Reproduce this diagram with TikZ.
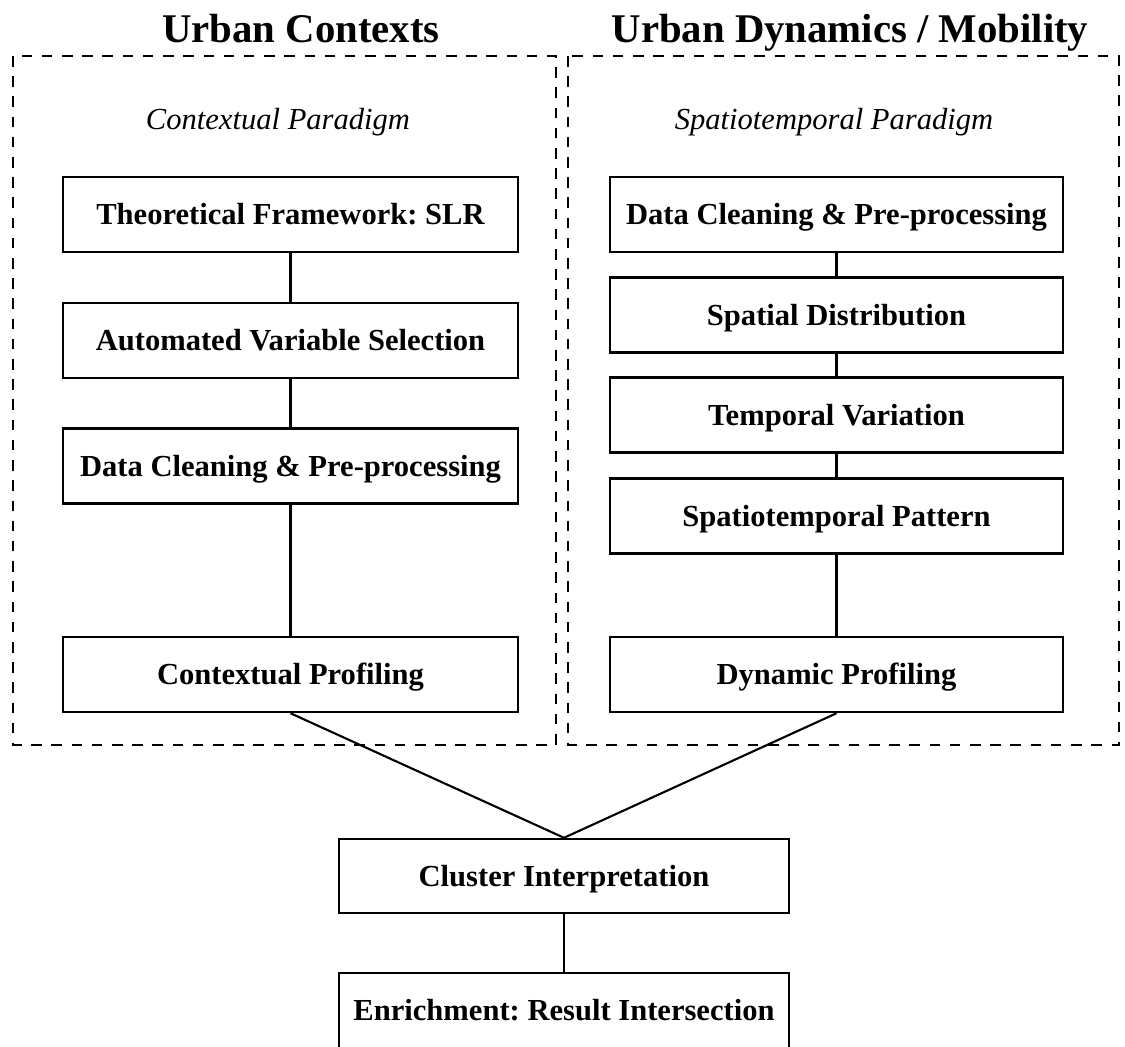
\documentclass[tikz,border=0pt]{standalone}
\usepackage{fontspec}
\setmainfont{Liberation Serif}
\frenchspacing

\begin{document}
\begin{tikzpicture}[x=0.02cm, y=-0.02cm,
    stepbox/.style={draw, line width=1.4pt, minimum width=9.1cm, minimum height=1.5cm, inner sep=0pt,
                    text height=15.5pt, text depth=4pt, font=\fontsize{17.4}{20}\selectfont\bfseries},
    link/.style={line width=1.2pt},
    frame/.style={line width=1.6pt, dash pattern=on 6pt off 5.5pt}]
    \useasboundingbox (0,0) rectangle (1125,1046); % fixes the page size

    % the two dashed frames
    \draw[frame] (13,56) rectangle (556,745);   % contexts
    \draw[frame] (568,56) rectangle (1119,745); % dynamics

    % headings above the frames
    \node[anchor=base, font=\fontsize{23.2}{28}\selectfont\bfseries] (ctxhead) at (301,42) {Urban Contexts};
    \node[anchor=base, font=\fontsize{23.2}{28}\selectfont\bfseries] (dynhead) at (850,42) {Urban Dynamics / Mobility};

    % paradigm names
    \node[anchor=base, font=\fontsize{17.4}{20}\selectfont\itshape] (ctxpara) at (278,129) {Contextual Paradigm};
    \node[anchor=base, font=\fontsize{17.4}{20}\selectfont\itshape] (dynpara) at (834,129) {Spatiotemporal Paradigm};

    % left column
    \foreach \n/\y/\txt in {1/214.5/Theoretical Framework: SLR,
                            2/340.5/Automated Variable Selection,
                            3/466/Data Cleaning \& Pre-processing,
                            4/674.5/Contextual Profiling}{
        \node[stepbox] (l\n) at (290.5,\y) {\txt};
    }

    % right column
    \foreach \n/\y/\txt in {1/214.5/Data Cleaning \& Pre-processing,
                            2/315/Spatial Distribution,
                            3/415/Temporal Variation,
                            4/516/Spatiotemporal Pattern,
                            5/674.5/Dynamic Profiling}{
        \node[stepbox, minimum width=9.06cm] (r\n) at (836.5,\y) {\txt};
    }

    % joint steps below
    \node[stepbox, minimum width=9cm, minimum height=1.48cm] (interp) at (564,876) {Cluster Interpretation};
    \node[stepbox, minimum width=9cm] (enrich) at (564,1010.5) {Enrichment: Result Intersection};

    % connectors
    \foreach \a/\b in {l1/l2, l2/l3, l3/l4, r1/r2, r2/r3, r3/r4, r4/r5, interp/enrich}{
        \draw[link] (\a) -- (\b);
    }
    \draw[link] (l4.south) -- (interp.north);
    \draw[link] (r5.south) -- (interp.north);
\end{tikzpicture}
\end{document}
